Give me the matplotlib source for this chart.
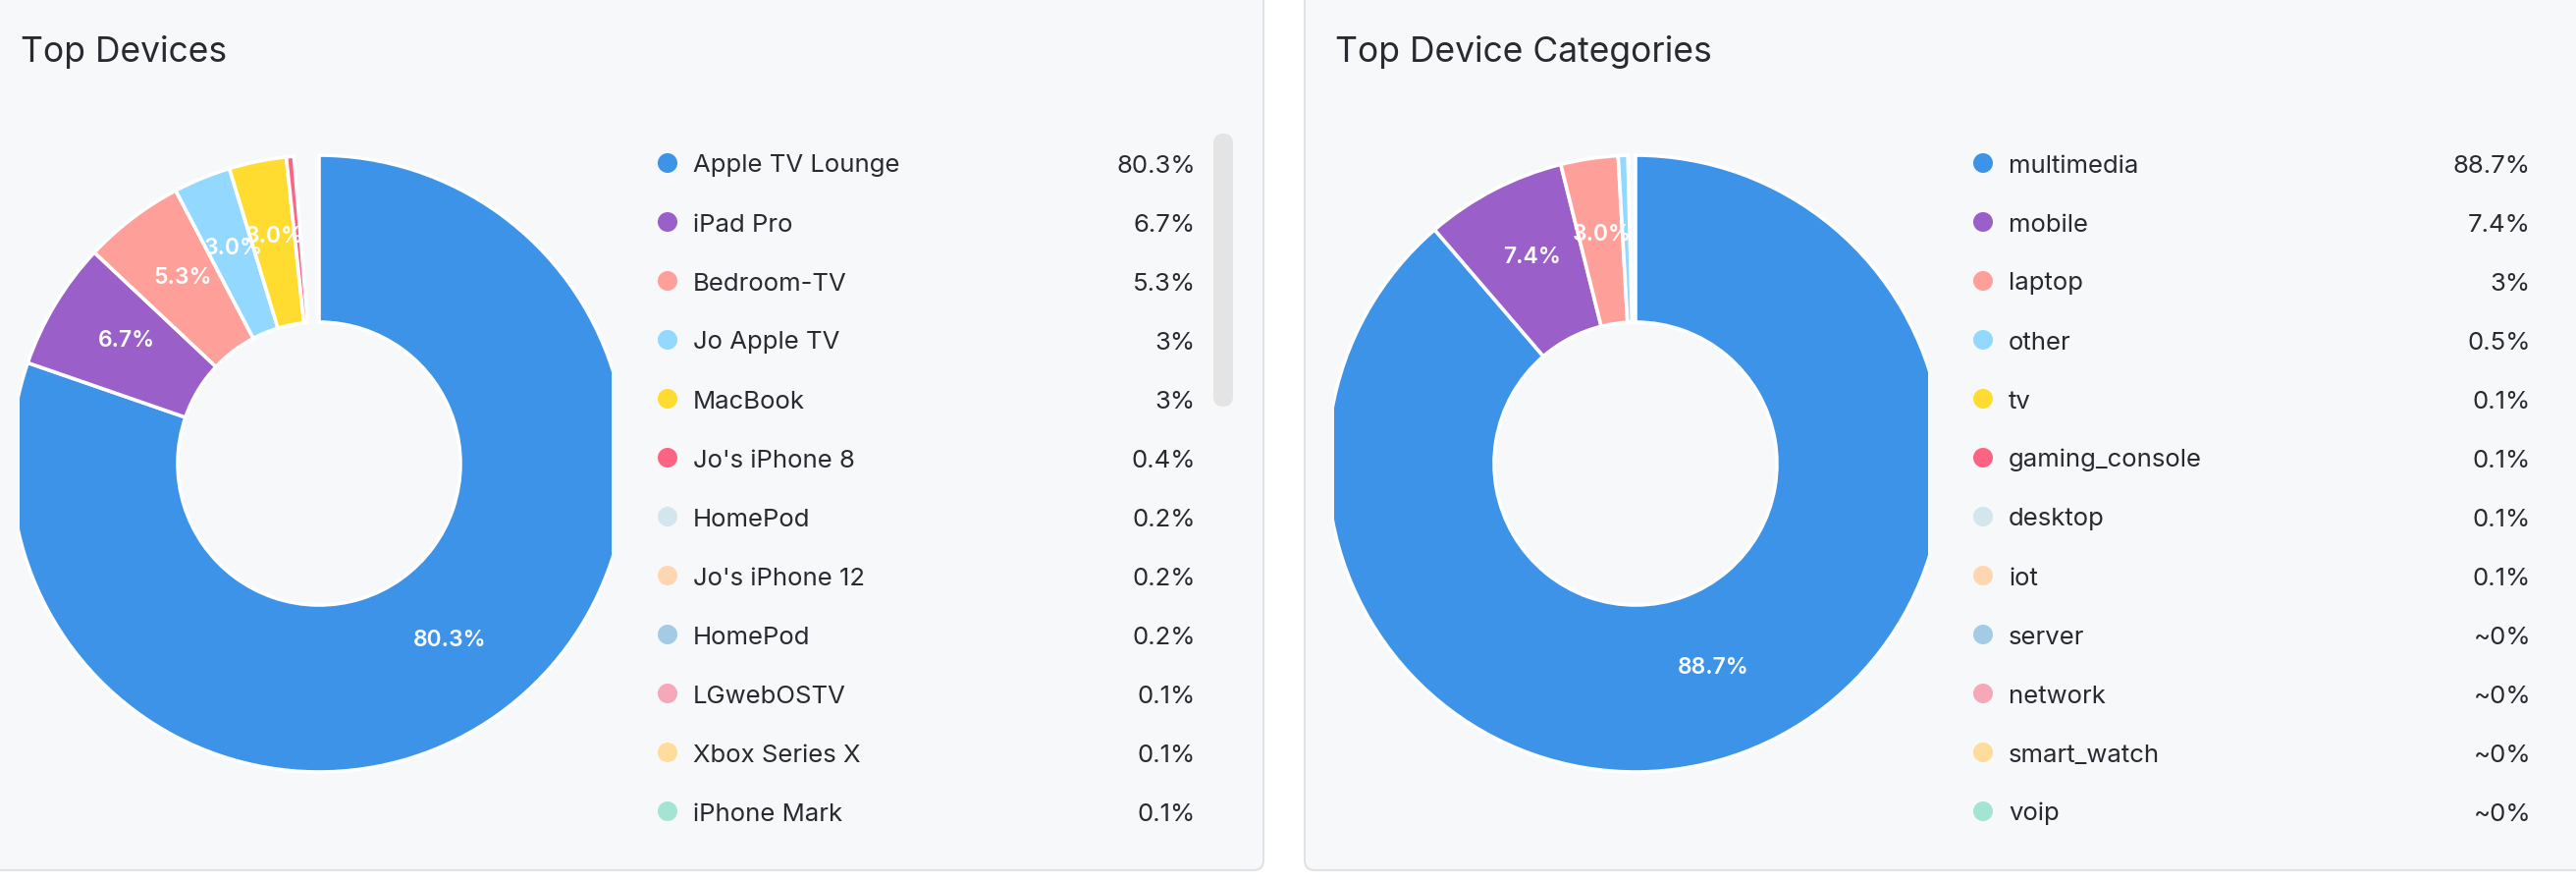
import matplotlib
matplotlib.use("Agg")
import matplotlib.pyplot as plt
from matplotlib.patches import FancyBboxPatch, Circle
import numpy as np

plt.rcParams['font.family'] = ['Inter', 'DejaVu Sans']

# data
device_names = ["Apple TV Lounge", "iPad Pro", "Bedroom-TV", "Jo Apple TV", "MacBook",
                "Jo's iPhone 8", "HomePod", "Jo's iPhone 12", "HomePod", "LGwebOSTV",
                "Xbox Series X", "iPhone Mark"]
device_pct = [80.3, 6.7, 5.3, 3.0, 3.0, 0.4, 0.2, 0.2, 0.2, 0.1, 0.1, 0.1]

category_names = ["multimedia", "mobile", "laptop", "other", "tv", "gaming_console",
                  "desktop", "iot", "server", "network", "smart_watch", "voip"]
category_pct = [88.7, 7.4, 3.0, 0.5, 0.1, 0.1, 0.1, 0.1, 0.0, 0.0, 0.0, 0.0]

colors = ["#3d93e8", "#9b5fc9", "#ff9f99", "#92d8ff", "#ffdc2f", "#fd6382",
          "#d3e6ee", "#ffd6b0", "#a4cbe6", "#f6a8b9", "#ffdb9c", "#a3e4d2"]

W, H = 2624, 898
fig = plt.figure(figsize=(W / 100, H / 100), dpi=100)
fig.patch.set_facecolor("white")

# background axes in pixel coords (y down)
bg = fig.add_axes([0, 0, 1, 1])
bg.set_xlim(0, W)
bg.set_ylim(H, 0)
bg.axis("off")

panel_bg = "#f7f8fa"
panel_edge = "#e1e2e5"
for x0, x1 in [(-30, 1287), (1329, W + 30)]:
    bg.add_patch(FancyBboxPatch((x0, -30), x1 - x0, 886 + 30,
                                boxstyle="round,pad=0,rounding_size=10",
                                facecolor=panel_bg, edgecolor=panel_edge, linewidth=1.5))

# scrollbar of the left legend
bg.add_patch(FancyBboxPatch((1236, 136), 20, 278, boxstyle="round,pad=0,rounding_size=10",
                            facecolor="#e4e4e5", edgecolor="none"))

text_col = "#272b30"
bg.text(21, 63, "Top Devices", fontsize=25.5, color=text_col, va="baseline", ha="left")
bg.text(1360, 63, "Top Device Categories", fontsize=25.5, color=text_col, va="baseline", ha="left")


def fmt_pct(v):
    if v == 0:
        return "~0%"
    return f"{v:g}%"


def draw_legend(names, vals, x_dot, x_text, x_val):
    for i, (n, v) in enumerate(zip(names, vals)):
        y = 166 + 60 * i
        bg.add_patch(Circle((x_dot, y), 10, facecolor=colors[i], edgecolor="none"))
        bg.text(x_text, y + 9.5, n, fontsize=18.5, color=text_col, va="baseline", ha="left")
        bg.text(x_val, y + 9.5, fmt_pct(v), fontsize=18.5, color=text_col, va="baseline", ha="right")


draw_legend(device_names, device_pct, 680, 706, 1218)
draw_legend(category_names, category_pct, 2020, 2046, 2578)


def draw_donut(vals, cx, cy, x0, x1, y0=150, y1=795):
    ax = fig.add_axes([x0 / W, 1 - y1 / H, (x1 - x0) / W, (y1 - y0) / H])
    fr = np.array(vals) / 100.0
    wedges, _ = ax.pie(fr, colors=colors, radius=314, startangle=90, counterclock=False,
                       normalize=False,
                       wedgeprops=dict(width=170, edgecolor="white", linewidth=2.6))
    for w, v in zip(wedges, vals):
        w.set_clip_on(True)
        w.set_clip_box(ax.bbox)
        if v < 0.3:
            w.set_visible(False)
        if v >= 1:
            mid = np.deg2rad((w.theta1 + w.theta2) / 2)
            r = 229
            ax.text(r * np.cos(mid), r * np.sin(mid) + 7, f"{v:.1f}%", color="white",
                    fontsize=16.5, fontweight="semibold", ha="center", va="center")
    ax.set_aspect("auto")
    ax.set_xlim(x0 - cx, x1 - cx)
    ax.set_ylim(cy - y1, cy - y0)
    ax.axis("off")
    return ax


draw_donut(device_pct, 325, 472, 20, 623)
draw_donut(category_pct, 1666, 472, 1359, 1964)

fig.savefig("out.png", dpi=100, facecolor=fig.get_facecolor())
